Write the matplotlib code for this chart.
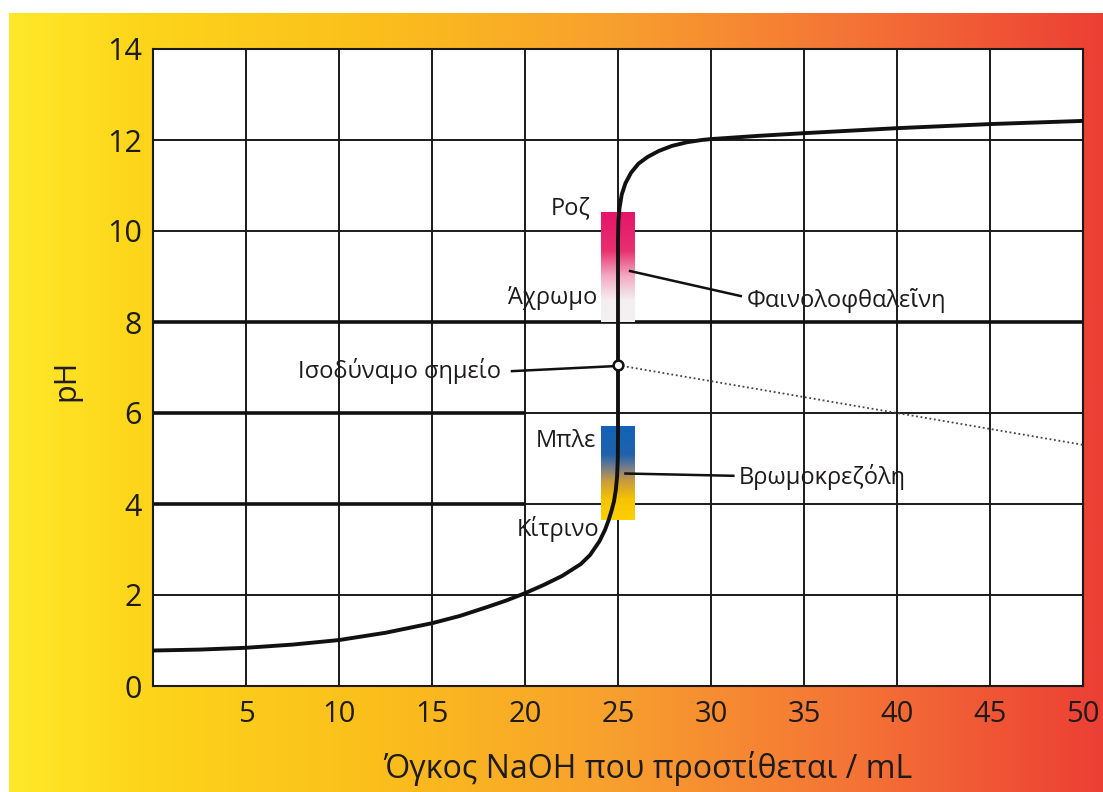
import numpy as np
import matplotlib
matplotlib.use("Agg")
import matplotlib.pyplot as plt
from matplotlib.colors import LinearSegmentedColormap

plt.rcParams['font.family'] = ['Open Sans', 'DejaVu Sans']

# ---- data ----
volume_ml = [0, 2.5, 5, 7.5, 10, 12.5, 15, 16.5, 18, 19, 20, 21, 22, 23, 23.5, 24,
             24.3, 24.5, 24.65, 24.78, 24.88, 24.95, 24.99, 25.0, 25.0, 25.0, 25.02,
             25.08, 25.2, 25.4, 25.7, 26.1, 26.6, 27.2, 27.9, 28.7, 29.5, 30,
             32.5, 35, 40, 45, 50]
ph_values = [0.78, 0.80, 0.84, 0.91, 1.01, 1.17, 1.38, 1.54, 1.74, 1.88, 2.04, 2.22,
             2.42, 2.68, 2.88, 3.18, 3.43, 3.65, 3.85, 4.05, 4.3, 4.6, 5.0, 5.6, 7.05,
             9.8, 10.2, 10.5, 10.8, 11.05, 11.28, 11.48, 11.63, 11.76, 11.87, 11.95,
             12.0, 12.02, 12.09, 12.15, 12.26, 12.35, 12.42]

equiv_point = (25, 7.05)
dotted_x = [25, 50]
dotted_y = [7.05, 5.3]

x_ticks = [5, 10, 15, 20, 25, 30, 35, 40, 45, 50]
y_ticks = [0, 2, 4, 6, 8, 10, 12, 14]

# indicator ranges (x0, x1, pH low, pH high)
phenol_range = (24.1, 25.9, 8.0, 10.4)
bromo_range = (24.1, 25.9, 3.65, 5.7)

# emphasised horizontal lines: (pH, x start, x end)
thick_lines = [(8, 0, 50), (6, 0, 20), (4, 0, 20)]

xlabel = "Όγκος NaOH που προστίθεται / mL"
ylabel = "pH"

# ---- figure ----
fig = plt.figure(figsize=(11.03, 7.92), dpi=100)

# background gradient
bg = fig.add_axes([9/1103, 0, 1 - 9/1103, 1 - 13/792], zorder=0)
bg_cmap = LinearSegmentedColormap.from_list(
    "bg", [(0.0, "#ffe82a"), (0.12, "#fdd51a"), (0.35, "#fbbd1c"),
           (0.55, "#f8a02e"), (0.78, "#f47236"), (1.0, "#ec3f34")])
grad = np.linspace(0, 1, 512)[None, :]
bg.imshow(grad, aspect='auto', cmap=bg_cmap, extent=[0, 1, 0, 1])
bg.set_axis_off()

ax = fig.add_axes([153/1103, (792-686)/792, 930/1103, 637/792], zorder=1)
ax.set_facecolor("white")
ax.set_xlim(0, 50)
ax.set_ylim(0, 14)
ax.set_xticks(x_ticks)
ax.set_yticks(y_ticks)
ax.grid(True, color="#1a1a1a", linewidth=1.4, zorder=1)
ax.set_axisbelow(True)
ax.tick_params(length=0, labelsize=21, colors="#1e1b1c", pad=10)
ax.tick_params(axis='y', labelsize=22, pad=8)
for sp in ax.spines.values():
    sp.set_color("#1a1a1a")
    sp.set_linewidth(1.5)

for yv, xs, xe in thick_lines:
    ax.plot([xs, xe], [yv, yv], color="#111111", linewidth=2.6, zorder=2,
            solid_capstyle='butt')

# indicator bars
pink_cmap = LinearSegmentedColormap.from_list(
    "pink", [(0.0, "#f2f2f2"), (0.2, "#f4eef0"), (0.42, "#f3a9c2"),
             (0.65, "#e8306f"), (1.0, "#e5146a")])
x0, x1, lo, hi = phenol_range
ax.imshow(np.linspace(0, 1, 256)[:, None], origin='lower', aspect='auto',
          cmap=pink_cmap, extent=[x0, x1, lo, hi], zorder=3)

bromo_cmap = LinearSegmentedColormap.from_list(
    "bromo", [(0.0, "#fcd000"), (0.22, "#f6c400"), (0.42, "#c89a40"),
              (0.55, "#7a7e88"), (0.7, "#1f62ad"), (1.0, "#1262b8")])
x0, x1, lo, hi = bromo_range
ax.imshow(np.linspace(0, 1, 256)[:, None], origin='lower', aspect='auto',
          cmap=bromo_cmap, extent=[x0, x1, lo, hi], zorder=3)

# titration curve
ax.plot(volume_ml, ph_values, color="#111111", linewidth=2.8, zorder=5,
        solid_joinstyle='round', solid_capstyle='round')
ax.plot(dotted_x, dotted_y, color="#444444", linewidth=1.3, linestyle=(0, (1, 1.5)),
        zorder=4)
ax.plot([equiv_point[0]], [equiv_point[1]], marker='o', markersize=7,
        markerfacecolor='white', markeredgecolor='#111111', markeredgewidth=1.8,
        zorder=6)

# leader lines
lead_kw = dict(color="#111111", linewidth=1.8, zorder=4)
ax.plot([19.3, 24.8], [6.92, 7.03], **lead_kw)
ax.plot([25.65, 31.6], [9.12, 8.57], **lead_kw)
ax.plot([25.4, 31.2], [4.67, 4.62], **lead_kw)

# labels
txt_kw = dict(fontsize=17, color="#1e1b1c", zorder=7)
ax.text(23.5, 10.5, "Ροζ", ha='right', va='center', **txt_kw)
ax.text(23.9, 8.53, "Άχρωμο", ha='right', va='center', **txt_kw)
ax.text(31.9, 8.48, "Φαινολοφθαλεῖνη", ha='left', va='center', **txt_kw)
ax.text(18.7, 6.92, "Ισοδύναμο σημείο", ha='right', va='center', **txt_kw)
ax.text(23.8, 5.38, "Μπλε", ha='right', va='center', **txt_kw)
ax.text(31.5, 4.6, "Βρωμοκρεζόλη", ha='left', va='center', **txt_kw)
ax.text(24.0, 3.45, "Κίτρινο", ha='right', va='center', **txt_kw)

fig.text(648/1103, 1 - 768/792, xlabel, ha='center', va='center',
         fontsize=23, color="#1e1b1c")
fig.text(66/1103, 1 - 380/792, ylabel, ha='center', va='center',
         fontsize=22, color="#1e1b1c", rotation=90)

fig.savefig("out.png", dpi=100)
